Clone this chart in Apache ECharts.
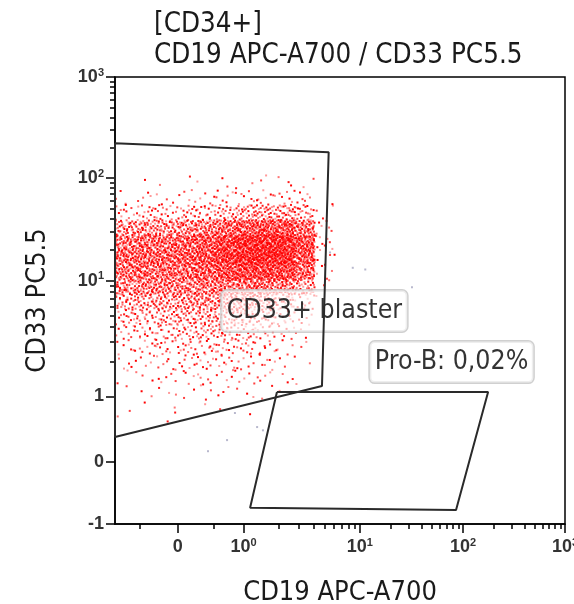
<!DOCTYPE html>
<html>
<head>
<meta charset="utf-8">
<script src="https://cdn.jsdelivr.net/npm/echarts@6/dist/echarts.min.js"></script>
<style>
  html, body { margin: 0; padding: 0; background: #fff; }
  #chart { width: 574px; height: 604px; }
</style>
</head>
<body>
<div id="chart"></div>
<script>
// ---- Axis scale (biexponential-style display: linear near zero, log above 1) ----
const linearAnchors = [[-1, 0], [0, 0.1395], [1, 0.2855]];          // value -> display
const logAnchors = [[0, 0.2855], [1, 0.544], [2, 0.7735], [3, 1]];   // log10(value) -> display

// ---- Tick marks ----
const cd19MajorTicks = [0, 1, 10, 100, 1000];
const cd19TickLabels = ['{b|0}', '{b|10}{s|0}', '{b|10}{s|1}', '{b|10}{s|2}', '{b|10}{s|3}'];
const cd33MajorTicks = [-1, 0, 1, 10, 100, 1000];
const cd33TickLabels = ['{b|-1}', '{b|0}', '{b|1}', '{b|10}{s|1}', '{b|10}{s|2}', '{b|10}{s|3}'];
const cd19LinearMinor = [-0.6, 0.55];
const minorMultipliers = [2, 3, 4, 5, 6, 7, 8, 9];
const minorDecades = [1, 10, 100];

// ---- Gates (CD19, CD33) ----
const blastGateCD19 = [-1, 5.4, 4.73, -1, -1];
const blastGateCD33 = [222, 181, 1.23, 0.377, 222];
const proBGateCD19 = [1.94, 176, 85.5, 1.14, 1.94];
const proBGateCD33 = [1.09, 1.09, -0.776, -0.738, 1.09];

// ---- Gate labels ----
const gateLabelText = ['CD33+ blaster', 'Pro-B: 0,02%'];
const gateLabelCD19 = [4.07, 77.4];
const gateLabelCD33 = [5.48, 1.98];

// ---- CD34+ event density, binned on the display scale (rows top -> bottom) ----
const cloudBinLeft = 0;          // display units
const cloudBinWidth = 0.0444;
const cloudBinTop = 0.781;
const cloudBinHeight = 0.03356;
const cloudCounts = [
  [0, 1, 1, 1, 1, 2, 2, 2, 3, 2, 0],
  [3, 4, 4, 4, 5, 6, 7, 8, 8, 6, 1],
  [11, 13, 13, 15, 18, 22, 28, 32, 32, 22, 3],
  [36, 42, 42, 45, 54, 66, 78, 84, 84, 60, 6],
  [60, 66, 66, 72, 84, 102, 120, 130, 125, 90, 8],
  [66, 72, 72, 78, 90, 108, 125, 130, 125, 84, 6],
  [60, 66, 66, 66, 78, 90, 100, 100, 95, 66, 4],
  [46, 52, 52, 52, 55, 60, 63, 63, 52, 34, 2],
  [27, 30, 35, 38, 41, 41, 38, 30, 22, 11, 1],
  [15, 18, 22, 26, 28, 28, 25, 18, 12, 5, 0],
  [10, 12, 15, 18, 20, 20, 16, 12, 7, 3, 0],
  [6, 8, 10, 12, 13, 13, 11, 8, 5, 2, 0],
  [4, 5, 6, 8, 8, 8, 7, 6, 4, 1, 0],
  [2, 3, 4, 5, 5, 5, 5, 4, 3, 1, 0],
  [1, 2, 2, 3, 3, 3, 3, 2, 1, 0, 0],
  [1, 1, 1, 1, 1, 1, 1, 0, 0, 0, 0],
  [1, 0, 1, 0, 0, 0, 0, 0, 0, 0, 0]
];

// ---- Ungated events (CD19, CD33) ----
const otherCD19 = [32, 0.87, 1.31, 0.75, 0.46, 5.55, 1.47, 8.7, 11.3];
const otherCD33 = [8.8, 0.745, 0.53, 0.33, 0.16, 18.9, 0.48, 13.4, 12.9];

// value -> display position
function toDisplay(v) {
  if (v <= 1) {
    const a = v <= 0 ? linearAnchors[0] : linearAnchors[1];
    const b = v <= 0 ? linearAnchors[1] : linearAnchors[2];
    return a[1] + (v - a[0]) * (b[1] - a[1]) / (b[0] - a[0]);
  }
  const l = Math.log10(v);
  let i = Math.min(Math.floor(l), logAnchors.length - 2);
  const a = logAnchors[i], b = logAnchors[i + 1];
  return a[1] + (l - a[0]) * (b[1] - a[1]) / (b[0] - a[0]);
}

function halton(i, base) {
  let f = 1, r = 0;
  while (i > 0) { f /= base; r += f * (i % base); i = Math.floor(i / base); }
  return r;
}

const minorValues = [];
minorDecades.forEach(d => minorMultipliers.forEach(m => minorValues.push(m * d)));

const cd19MajorPos = cd19MajorTicks.map(toDisplay);
const cd33MajorPos = cd33MajorTicks.map(toDisplay);
const cd19MinorPos = cd19LinearMinor.concat(minorValues).map(toDisplay);
const cd33MinorPos = minorValues.map(toDisplay);

function labelFor(positions, labels) {
  return function (val) {
    let best = 0;
    for (let i = 1; i < positions.length; i++) {
      if (Math.abs(positions[i] - val) < Math.abs(positions[best] - val)) best = i;
    }
    return labels[best];
  };
}

// spread each bin's events across the bin
const cloudData = [];
let seq = 1;
cloudCounts.forEach((row, r) => {
  row.forEach((n, c) => {
    for (let k = 0; k < n; k++) {
      const x = cloudBinLeft + (c + halton(seq, 2)) * cloudBinWidth;
      const y = cloudBinTop - (r + halton(seq, 3)) * cloudBinHeight;
      cloudData.push([x, y]);
      seq++;
    }
  });
});
const shades = [1, 0.55, 0.9, 0.4, 0.75];
const cloudItems = cloudData.map((p, i) => ({
  value: p,
  itemStyle: { opacity: shades[i % shades.length] }
}));

const otherData = otherCD19.map((v, i) => [toDisplay(v), toDisplay(otherCD33[i])]);
const blastGate = blastGateCD19.map((v, i) => [toDisplay(v), toDisplay(blastGateCD33[i])]);
const proBGate = proBGateCD19.map((v, i) => [toDisplay(v), toDisplay(proBGateCD33[i])]);
const labelData = gateLabelText.map((t, i) => ({
  name: t,
  value: [toDisplay(gateLabelCD19[i]), toDisplay(gateLabelCD33[i])]
}));

const tickFamily = 'Liberation Sans, Arial, sans-serif';
const tickRich = {
  b: { fontFamily: tickFamily, fontSize: 18, fontWeight: 'bold', color: '#333', lineHeight: 20 },
  s: { fontFamily: tickFamily, fontSize: 11, fontWeight: 'bold', color: '#333', verticalAlign: 'top', lineHeight: 11 }
};
const axisBlack = { color: '#000', width: 1.5 };
const textFamily = 'DejaVu Sans Condensed, DejaVu Sans, sans-serif';

const chart = echarts.init(document.getElementById('chart'), null, { renderer: 'canvas' });
chart.setOption({
  animation: false,
  backgroundColor: '#fff',
  title: {
    text: '[CD34+]\nCD19 APC-A700 / CD33 PC5.5',
    left: 149,
    top: 4,
    textStyle: { fontFamily: textFamily, fontSize: 27.5, fontWeight: 'normal', color: '#1a1a1a', lineHeight: 31 }
  },
  grid: {
    left: 115, right: 9, top: 77, bottom: 80, outerBoundsMode: 'none',
    show: true, borderColor: '#000', borderWidth: 1.5, backgroundColor: 'transparent'
  },
  xAxis: [
    {
      type: 'value', min: 0, max: 1, position: 'bottom',
      name: 'CD19 APC-A700', nameLocation: 'middle', nameGap: 55,
      nameTextStyle: { fontFamily: textFamily, fontSize: 27, color: '#1a1a1a' },
      axisLine: { show: true, lineStyle: axisBlack },
      axisTick: { show: true, customValues: cd19MajorPos, length: 9, lineStyle: axisBlack },
      axisLabel: { customValues: cd19MajorPos, margin: 13, formatter: labelFor(cd19MajorPos, cd19TickLabels), rich: tickRich },
      splitLine: { show: false }
    },
    {
      type: 'value', min: 0, max: 1, position: 'bottom',
      axisLine: { show: false },
      axisTick: { show: true, customValues: cd19MinorPos, length: 5, lineStyle: axisBlack },
      axisLabel: { show: false },
      splitLine: { show: false }
    }
  ],
  yAxis: [
    {
      type: 'value', min: 0, max: 1, position: 'left',
      name: 'CD33 PC5.5', nameLocation: 'middle', nameGap: 64, nameRotate: 90,
      nameTextStyle: { fontFamily: textFamily, fontSize: 27, color: '#1a1a1a' },
      axisLine: { show: true, lineStyle: axisBlack },
      axisTick: { show: true, customValues: cd33MajorPos, length: 9, lineStyle: axisBlack },
      axisLabel: { customValues: cd33MajorPos, margin: 11, formatter: labelFor(cd33MajorPos, cd33TickLabels), rich: tickRich },
      splitLine: { show: false }
    },
    {
      type: 'value', min: 0, max: 1, position: 'left',
      axisLine: { show: false },
      axisTick: { show: true, customValues: cd33MinorPos, length: 5, lineStyle: axisBlack },
      axisLabel: { show: false },
      splitLine: { show: false }
    }
  ],
  series: [
    {
      name: 'CD34+ events', type: 'scatter', data: cloudItems,
      symbol: 'rect', symbolSize: 2, large: false, z: 1,
      itemStyle: { color: '#ff0000' }, silent: true
    },
    {
      name: 'Ungated', type: 'scatter', data: otherData,
      symbol: 'rect', symbolSize: 2, z: 1,
      itemStyle: { color: '#9a9ab8', opacity: 0.7 }, silent: true
    },
    {
      name: 'Gate labels', type: 'scatter', data: labelData,
      symbolSize: 0, z: 3,
      label: {
        show: true, position: 'inside', formatter: '{b}',
        fontFamily: textFamily, fontSize: 26.5, color: '#000',
        backgroundColor: 'rgba(255,255,255,0.8)', borderColor: '#c4c4c4', borderWidth: 1.5, borderRadius: 5,
        padding: [8, 5, 6, 5]
      }
    },
    {
      name: 'CD33+ blaster', type: 'line', data: blastGate, z: 4,
      symbol: 'none', lineStyle: { color: '#2a2a2a', width: 2 }, silent: true, clip: true
    },
    {
      name: 'Pro-B', type: 'line', data: proBGate, z: 4,
      symbol: 'none', lineStyle: { color: '#2a2a2a', width: 2 }, silent: true, clip: true
    }
  ]
});
</script>
</body>
</html>
